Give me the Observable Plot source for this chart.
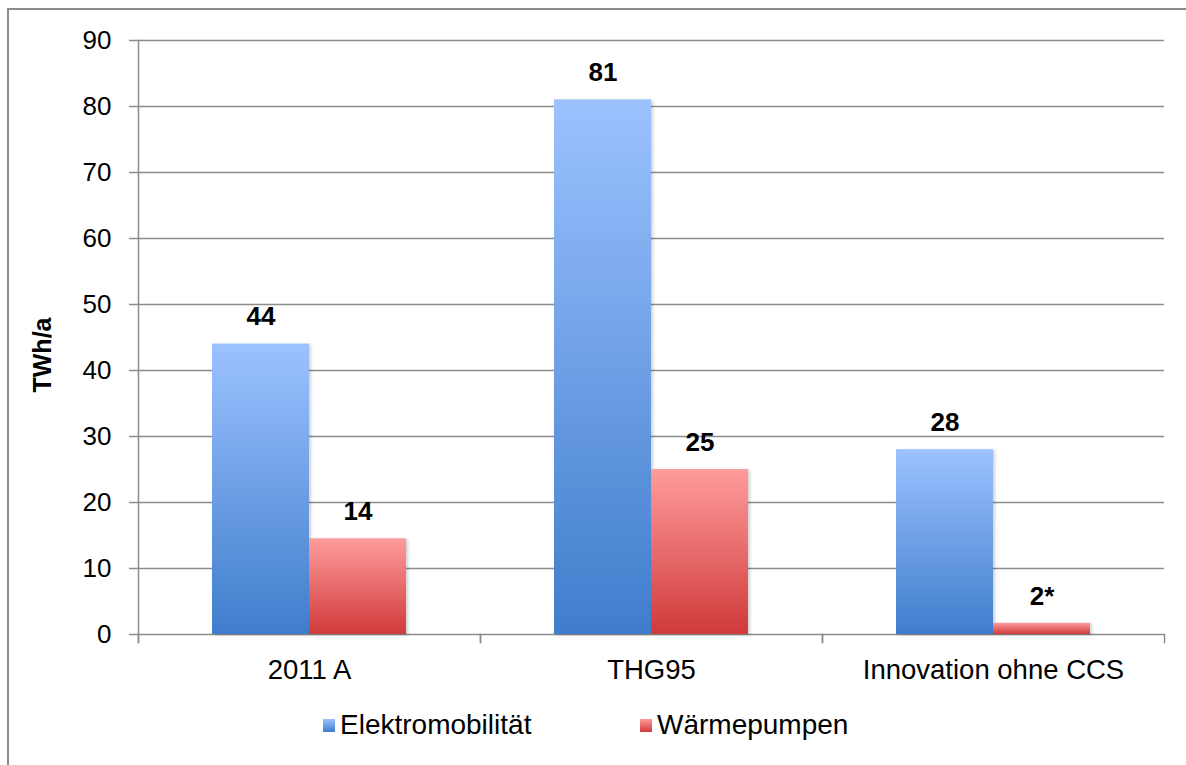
<!DOCTYPE html>
<html>
<head>
<meta charset="utf-8">
<script src="https://cdn.jsdelivr.net/npm/d3@7"></script>
<script src="https://cdn.jsdelivr.net/npm/@observablehq/plot@0.6"></script>
<style>
  html, body { margin: 0; padding: 0; background: #fff; overflow: hidden; }
  body { width: 1186px; height: 765px; position: relative; font-family: "Liberation Sans", Arial, sans-serif; }
  #border { position: absolute; left: 7px; top: 8px; width: 1400px; height: 1000px; border: 2px solid #8c8c8c; box-sizing: border-box; pointer-events: none; }
  #chart { position: absolute; left: 0; top: 0; }
  #ytitle { position: absolute; left: 42px; top: 355px; transform: translate(-50%, -50%) rotate(-90deg); font-size: 25px; font-weight: bold; white-space: nowrap; color: #000; }
  .legend-item { position: absolute; top: 710px; height: 30px; display: flex; align-items: center; font-size: 28px; color: #000; white-space: nowrap; }
  .swatch { width: 12px; height: 13px; margin-right: 5px; }
  g[aria-label="bar"] rect { filter: drop-shadow(2px 1px 1.5px rgba(0,0,0,0.18)); }
</style>
</head>
<body>
<div id="border"></div>
<div id="chart"></div>
<div id="ytitle">TWh/a</div>
<div id="legend"></div>
<script>
const groups = ["2011 A", "THG95", "Innovation ohne CCS"];
const series = ["Elektromobilität", "Wärmepumpen"];
const elektroValues = [44, 81, 28];
const waermeValues = [14.5, 25, 1.7];
const elektroLabels = ["44", "81", "28"];
const waermeLabels = ["14", "25", "2*"];
const yTicks = [0, 10, 20, 30, 40, 50, 60, 70, 80, 90];
const seriesFills = ["url(#gradBlue)", "url(#gradRed)"];

const data = groups.flatMap((g, i) => [
  {group: g, series: series[0], value: elektroValues[i], label: elektroLabels[i]},
  {group: g, series: series[1], value: waermeValues[i], label: waermeLabels[i]}
]);

const grid = "#8c8c8c";
const chart = Plot.plot({
  width: 1186,
  height: 690,
  marginLeft: 137,
  marginRight: 21,
  marginTop: 40,
  marginBottom: 56,
  style: {fontFamily: "'Liberation Sans', Arial, sans-serif", background: "transparent", color: "#000"},
  fx: {domain: groups, padding: 0, axis: null, label: null},
  x: {domain: series, paddingInner: 0, paddingOuter: 0.75, axis: null},
  y: {domain: [0, 90], axis: null},
  color: {domain: series, range: seriesFills},
  marks: [
    Plot.gridY(yTicks, {stroke: grid, strokeOpacity: 1, strokeWidth: 1.5}),
    Plot.axisY(yTicks, {tickSize: 9, tickPadding: 18, fontSize: 26, stroke: grid, strokeWidth: 1.5, strokeOpacity: 1, fill: "#000", label: null}),
    Plot.frame({anchor: "left", facet: "super", insetBottom: -8, stroke: grid, strokeWidth: 1.5}),
    Plot.frame({anchor: "left", insetTop: 594, insetBottom: -8, stroke: grid, strokeWidth: 1.5}),
    Plot.frame({anchor: "right", insetTop: 594, insetBottom: -8, stroke: grid, strokeWidth: 1.5}),
    Plot.axisFx({anchor: "bottom", tickSize: 0, tickPadding: 25, fontSize: 27.5, fill: "#000", label: null}),
    Plot.barY(data, {fx: "group", x: "series", y: "value", fill: "series"}),
    Plot.text(data, {fx: "group", x: "series", y: "value", text: "label", dy: -27, fontSize: 26, fontWeight: "bold", fill: "#000"})
  ]
});

const svg = d3.select(chart);
const defs = svg.insert("defs", ":first-child");
function grad(id, top, bottom) {
  const g = defs.append("linearGradient").attr("id", id).attr("x1", 0).attr("y1", 0).attr("x2", 0).attr("y2", 1);
  g.append("stop").attr("offset", "0%").attr("stop-color", top);
  g.append("stop").attr("offset", "100%").attr("stop-color", bottom);
}
grad("gradBlue", "#9cc2ff", "#3f7dcc");
grad("gradRed", "#ff9c9c", "#d03a3a");
document.getElementById("chart").appendChild(chart);

const legendColors = [["#9cc2ff", "#3f7dcc"], ["#ff9c9c", "#d03a3a"]];
const legendLefts = [323, 640];
const legend = document.getElementById("legend");
series.forEach((s, i) => {
  const item = document.createElement("div");
  item.className = "legend-item";
  item.style.left = legendLefts[i] + "px";
  const sw = document.createElement("div");
  sw.className = "swatch";
  sw.style.background = `linear-gradient(${legendColors[i][0]}, ${legendColors[i][1]})`;
  item.appendChild(sw);
  const t = document.createElement("span");
  t.textContent = s;
  item.appendChild(t);
  legend.appendChild(item);
});
</script>
</body>
</html>
